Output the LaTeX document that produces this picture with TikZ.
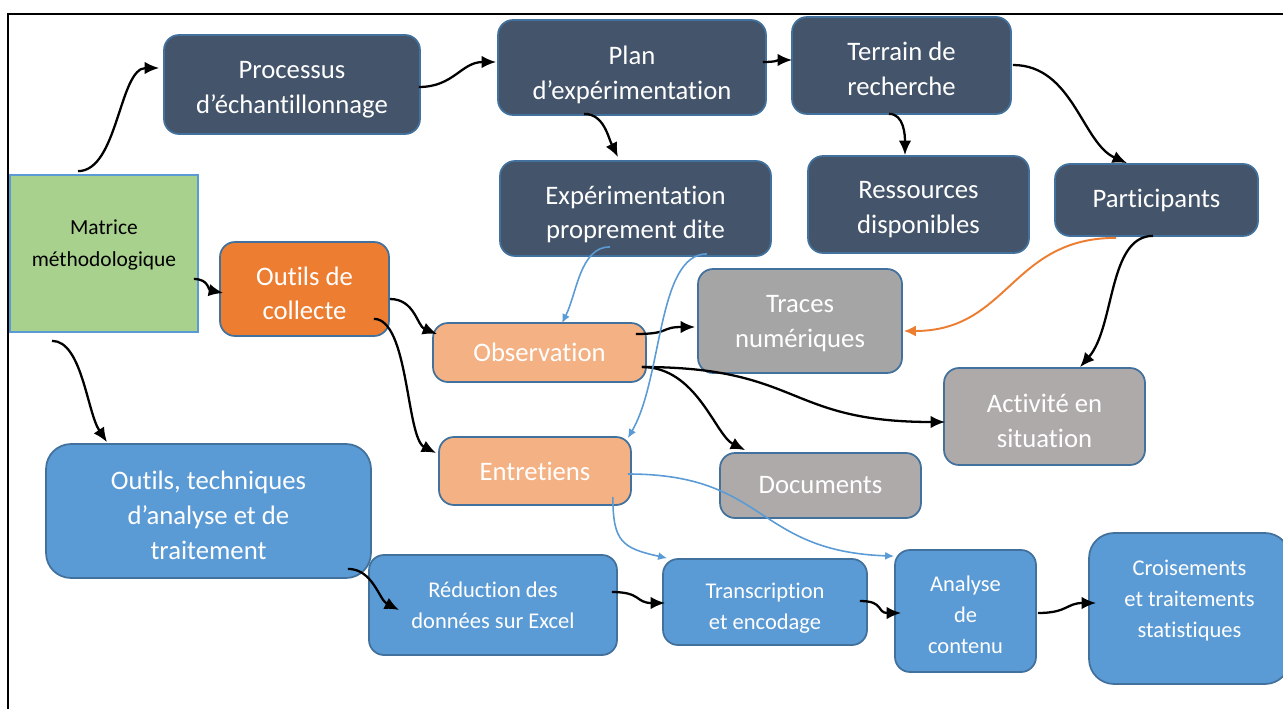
\documentclass[tikz,border=0pt]{standalone}
\usepackage{fontspec}
\setmainfont{Carlito}[Ligatures=NoCommon]
\usetikzlibrary{arrows.meta}
\definecolor{slatefill}{HTML}{44546A}
\definecolor{boxedge}{HTML}{41719C}
\definecolor{matrixgreen}{HTML}{A9D18E}
\definecolor{lightblue}{HTML}{5B9BD5}
\definecolor{collectfill}{HTML}{ED7D31}
\definecolor{toolfill}{HTML}{F4B183}
\definecolor{tracefill}{HTML}{A5A5A5}
\definecolor{greyfill}{HTML}{AEAAAA}
\newcommand{\boxfont}{\fontsize{15.2}{19.8}\selectfont}
\newcommand{\smallboxfont}{\fontsize{12.8}{17.6}\selectfont}
\tikzstyle{base_box} = [rectangle, rounded corners=0.3cm, draw=boxedge, line width=1pt, text=white, align=center, inner sep=2pt, font=\boxfont]
\tikzstyle{matrix_box} = [rectangle, draw=lightblue, line width=1pt, fill=matrixgreen, align=center, font=\fontsize{12.2}{18}\selectfont]
\tikzstyle{slate_box} = [base_box, fill=slatefill]
\tikzstyle{collect_box} = [base_box, fill=collectfill]
\tikzstyle{tool_box} = [base_box, fill=toolfill]
\tikzstyle{trace_box} = [base_box, fill=tracefill]
\tikzstyle{grey_box} = [base_box, fill=greyfill]
\tikzstyle{analysis_box} = [base_box, fill=lightblue]
\tikzstyle{frame_line} = [line width=1.1pt]
\tikzstyle{flow_arrow} = [line width=1.3pt, -{Latex[length=2.9mm, width=2.5mm]}]
\tikzstyle{blue_link} = [line width=0.9pt, draw=lightblue, -{Latex[length=1.8mm, width=1.6mm]}]
\tikzstyle{orange_link} = [line width=1.1pt, draw=collectfill, -{Latex[length=2.4mm, width=2.2mm]}]
\tikzset{text_down/.style={execute at begin node={\rule{0pt}{#1}}},
  text_up/.style={execute at end node={\rule[-#1]{0pt}{0pt}}}}
\begin{document}
\begin{tikzpicture}[x=0.02cm, y=-0.02cm]
\useasboundingbox (0,0) rectangle (1283,709);
\draw [frame_line] (8,709) -- (8,14) -- (1283,14);

\node (matrice) [matrix_box, text_up=11.5pt, minimum width=3.76cm, minimum height=3.14cm] at (104,253.5) {Matrice\\méthodologique};
\node (processus) [slate_box, text_down=35.3pt, minimum width=5.12cm, minimum height=1.98cm] at (292,84.5) {Processus\\d’échantillonnage};
\node (plan) [slate_box, text_down=38.7pt, minimum width=5.36cm, minimum height=1.9cm] at (632,67.5) {Plan\\d’expérimentation};
\node (terrain) [slate_box, text_down=34.1pt, minimum width=4.38cm, minimum height=1.94cm] at (901.5,65.5) {Terrain de\\recherche};
\node (experim) [slate_box, text_down=37pt, minimum width=5.42cm, minimum height=1.9cm] at (635.5,208.5) {Expérimentation\\proprement dite};
\node (ressources) [slate_box, text_down=35.3pt, minimum width=4.42cm, minimum height=1.94cm] at (918.5,204.5) {Ressources\\disponibles};
\node (participants) [slate_box, minimum width=4.06cm, minimum height=1.44cm] at (1156.5,200) {Participants};
\node (collecte) [collect_box, text_down=35.2pt, minimum width=3.38cm, minimum height=1.88cm] at (304.5,289) {Outils de\\collecte};
\node (observation) [tool_box, minimum width=4.26cm, minimum height=1.18cm] at (539.5,352.5) {Observation};
\node (entretiens) [tool_box, minimum width=3.84cm, minimum height=1.36cm] at (535,471) {Entretiens};
\node (traces) [trace_box, text_down=32.4pt, minimum width=4.08cm, minimum height=2.08cm] at (800,321) {Traces\\numériques};
\node (activite) [grey_box, text_down=35.3pt, minimum width=4.02cm, minimum height=1.94cm] at (1044.5,416.5) {Activité en\\situation};
\node (documents) [grey_box, minimum width=4.02cm, minimum height=1.3cm] at (820.5,485.5) {Documents};
\node (techniques) [analysis_box, text_down=55pt, rounded corners=0.5cm, minimum width=6.5cm, minimum height=2.68cm] at (208.5,511) {Outils, techniques\\d’analyse et de\\traitement};
\node (reduction) [analysis_box, font=\smallboxfont, minimum width=4.96cm, minimum height=2cm] at (493,605) {Réduction des\\données sur Excel};
\node (transcription) [analysis_box, font=\smallboxfont, text_down=33.6pt, minimum width=4.08cm, minimum height=1.72cm] at (765,602) {Transcription\\et encodage};
\node (analyse) [analysis_box, font=\smallboxfont, text_down=48.4pt, minimum width=2.82cm, minimum height=2.44cm] at (965.5,611) {Analyse\\de\\contenu};
\node (croisements) [analysis_box, font=\smallboxfont, text_up=11.5pt, rounded corners=0.5cm, minimum width=4.02cm, minimum height=3.02cm] at (1189.5,608.5) {Croisements\\et traitements\\statistiques};

% Flèches entre les étapes
\draw [flow_arrow] ([shift={(-26,-3)}]matrice.north) .. controls +(40,0) and +(-40,0) .. ([shift={(-4,-16.5)}]processus.west);
\draw [flow_arrow] ([shift={(-2,2.5)}]processus.east) .. controls +(35,0) and +(-35,0) .. ([shift={(-1,-5.5)}]plan.west);
\draw [flow_arrow] ([shift={(-4,-5.5)}]plan.east) .. controls +(15,0) and +(-15,0) .. ([shift={(1,-5.5)}]terrain.west);
\draw [flow_arrow] ([shift={(-48,-2)}]plan.south) .. controls +(20,0) and +(-10,-20) .. ([shift={(-17.5,-3)}]experim.north);
\draw [flow_arrow] ([shift={(-12.5,-1)}]terrain.south) .. controls +(15,0) and +(0,-20) .. ([shift={(-13.5,0)}]ressources.north);
\draw [flow_arrow] ([shift={(1,-0.5)}]terrain.east) .. controls +(60,0) and +(-45,-20) .. ([shift={(-29.5,0)}]participants.north);
\draw [flow_arrow] ([shift={(-3.5,-1)}]participants.south) .. controls +(-45,0) and +(35,-40) .. ([shift={(35.5,0)}]activite.north);
\draw [orange_link] ([shift={(-40.5,1)}]participants.south) .. controls +(-105,0) and +(105,0) .. ([shift={(1,10)}]traces.east);
\draw [flow_arrow] ([shift={(-5,25.5)}]matrice.east) .. controls +(15,0) and +(-15,-3) .. ([shift={(4,4)}]collecte.west);
\draw [flow_arrow] ([shift={(0,10)}]collecte.east) .. controls +(25,0) and +(-20,-8) .. ([shift={(5,12)}]observation.north west);
\draw [flow_arrow] ([shift={(-16,-18)}]collecte.south east) .. controls +(35,0) and +(-30,-15) .. ([shift={(-2,-18)}]entretiens.west);
\draw [flow_arrow] ([shift={(-52,8)}]matrice.south) .. controls +(30,0) and +(-20,-30) .. ([shift={(-101.5,-1)}]techniques.north);
\draw [flow_arrow] ([shift={(-11,-18.5)}]observation.east) .. controls +(35,0) and +(-35,0) .. ([shift={(-2,6)}]traces.west);
\draw [flow_arrow] ([shift={(-5,14.5)}]observation.east) .. controls +(55,0) and +(-30,-15) .. ([shift={(26,-2)}]documents.north west);
\draw [flow_arrow] ([shift={(-5,14.5)}]observation.east) .. controls +(160,0) and +(-160,0) .. ([shift={(2,5.5)}]activite.west);
\draw [flow_arrow] ([shift={(-24,-10)}]techniques.south east) .. controls +(25,0) and +(-20,-10) .. ([shift={(31,5)}]reduction.west);
\draw [flow_arrow] ([shift={(-6,-13)}]reduction.east) .. controls +(30,0) and +(-30,0) .. ([shift={(3,1)}]transcription.west);
\draw [flow_arrow] ([shift={(-8,-1)}]transcription.east) .. controls +(25,0) and +(-25,0) .. ([shift={(7,2)}]analyse.west);
\draw [flow_arrow] ([shift={(1,2)}]analyse.east) .. controls +(30,0) and +(-30,0) .. ([shift={(8,-5.5)}]croisements.west);
\draw [blue_link] ([shift={(-25.5,-10)}]experim.south) .. controls +(-30,0) and +(15,-30) .. ([shift={(22.5,1)}]observation.north);
\draw [blue_link] ([shift={(71.5,-3)}]experim.south) .. controls +(-50,0) and +(35,-60) .. ([shift={(-4,2)}]entretiens.north east);
\draw [blue_link] ([shift={(-19,-9)}]entretiens.south east) .. controls +(0,45) and +(-45,-10) .. ([shift={(5,0)}]transcription.north west);
\draw [blue_link] ([shift={(-4,3)}]entretiens.east) .. controls +(140,0) and +(-140,-5) .. ([shift={(0,7)}]analyse.north west);
\end{tikzpicture}
\end{document}
